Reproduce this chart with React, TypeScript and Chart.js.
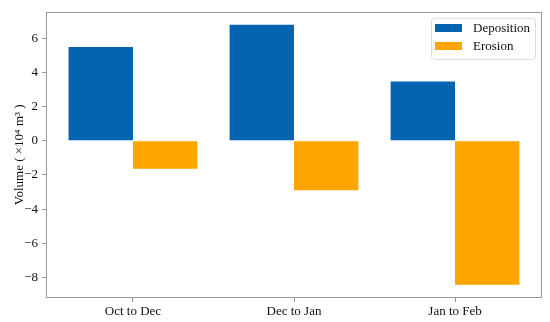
import React, { useEffect, useRef } from "react";
import { Chart, registerables } from "chart.js";

Chart.register(...registerables);

const categories = ["Oct to Dec", "Dec to Jan", "Jan to Feb"];
const seriesNames = ["Deposition", "Erosion"];
const deposition = [5.5, 6.8, 3.48];
const erosion = [-1.63, -2.9, -8.44];
const yTicks = [-8, -6, -4, -2, 0, 2, 4, 6];
const xTicks = [0, 1, 2];
const seriesColors = ["#0564b0", "#ffa500"];
const yTitle = "Volume ( ×10⁴ m³ )";

const FONT = "'Liberation Serif', 'Times New Roman', serif";
const AXIS_GREY = "#999999";

const framePlugin = {
  id: "frame",
  afterDatasetsDraw(chart: any) {
    const { ctx, chartArea } = chart;
    ctx.save();
    ctx.strokeStyle = AXIS_GREY;
    ctx.lineWidth = 1;
    ctx.strokeRect(
      Math.round(chartArea.left) + 0.5,
      Math.round(chartArea.top) + 0.5,
      Math.round(chartArea.right - chartArea.left) - 1,
      Math.round(chartArea.bottom - chartArea.top) - 1
    );
    ctx.restore();
  },
};

const legendPlugin = {
  id: "customLegend",
  afterDraw(chart: any) {
    const { ctx, chartArea } = chart;
    const boxW = 104;
    const boxH = 41;
    const x0 = chartArea.right - 7 - boxW;
    const y0 = chartArea.top + 6;
    ctx.save();
    ctx.fillStyle = "rgba(255,255,255,0.8)";
    ctx.strokeStyle = "#dddddd";
    ctx.lineWidth = 1;
    const r = 3;
    ctx.beginPath();
    ctx.moveTo(x0 + r + 0.5, y0 + 0.5);
    ctx.arcTo(x0 + boxW + 0.5, y0 + 0.5, x0 + boxW + 0.5, y0 + boxH + 0.5, r);
    ctx.arcTo(x0 + boxW + 0.5, y0 + boxH + 0.5, x0 + 0.5, y0 + boxH + 0.5, r);
    ctx.arcTo(x0 + 0.5, y0 + boxH + 0.5, x0 + 0.5, y0 + 0.5, r);
    ctx.arcTo(x0 + 0.5, y0 + 0.5, x0 + boxW + 0.5, y0 + 0.5, r);
    ctx.closePath();
    ctx.fill();
    ctx.stroke();
    ctx.font = `13px ${FONT}`;
    ctx.textBaseline = "middle";
    ctx.textAlign = "left";
    chart.data.datasets.forEach((ds: any, i: number) => {
      const cy = y0 + 10 + i * 18.5;
      ctx.fillStyle = ds.backgroundColor;
      ctx.fillRect(x0 + 4, Math.round(cy - 4), 27, 8);
      ctx.fillStyle = "#111111";
      ctx.fillText(ds.label, x0 + 42, cy + 0.5);
    });
    ctx.restore();
  },
};

export default function App() {
  const ref = useRef<HTMLCanvasElement | null>(null);

  useEffect(() => {
    document.body.style.margin = "0";
    const canvas = ref.current;
    if (!canvas) return;
    const chart = new Chart(canvas, {
      type: "bar",
      data: {
        datasets: [
          {
            label: seriesNames[0],
            data: deposition.map((v, i) => ({ x: i, y: v })),
            backgroundColor: seriesColors[0],
            borderWidth: 0,
          },
          {
            label: seriesNames[1],
            data: erosion.map((v, i) => ({ x: i, y: v })),
            backgroundColor: seriesColors[1],
            borderWidth: 0,
          },
        ],
      },
      options: {
        responsive: false,
        animation: false,
        devicePixelRatio: 1,
        layout: { padding: { top: 10, right: 8, left: 0, bottom: 0 } },
        datasets: {
          bar: { categoryPercentage: 0.8, barPercentage: 1.0 },
        },
        plugins: {
          legend: { display: false },
          tooltip: { enabled: false },
        },
        scales: {
          x: {
            type: "linear",
            offset: false,
            min: -0.54,
            max: 2.54,
            afterBuildTicks: (scale: any) => {
              scale.ticks = xTicks.map((v) => ({ value: v }));
            },
            afterFit: (scale: any) => {
              scale.height = 24;
            },
            border: { display: false },
            grid: {
              offset: false,
              drawOnChartArea: false,
              drawTicks: true,
              tickLength: 4,
              tickColor: AXIS_GREY,
            },
            ticks: {
              padding: 2,
              color: "#111111",
              font: { family: FONT, size: 13 },
              autoSkip: false,
              maxRotation: 0,
              callback: (v: any) => categories[Number(v)] ?? "",
            },
          },
          y: {
            type: "linear",
            min: -9.21,
            max: 7.56,
            afterBuildTicks: (scale: any) => {
              scale.ticks = yTicks.map((v) => ({ value: v }));
            },
            afterFit: (scale: any) => {
              scale.width = 46;
            },
            border: { display: false },
            grid: {
              drawOnChartArea: false,
              drawTicks: true,
              tickLength: 4,
              tickColor: AXIS_GREY,
            },
            ticks: {
              padding: 4,
              color: "#111111",
              font: { family: FONT, size: 13 },
              callback: (v: any) => String(v).replace("-", "\u2212"),
            },
            title: {
              display: true,
              text: yTitle,
              color: "#111111",
              font: { family: FONT, size: 13 },
              padding: { top: 12, bottom: 4 },
            },
          },
        },
      },
      plugins: [framePlugin, legendPlugin],
    } as any);
    return () => chart.destroy();
  }, []);

  return (
    <div style={{ width: 550, height: 322 }}>
      <canvas ref={ref} width={550} height={322} style={{ display: "block" }} />
    </div>
  );
}
